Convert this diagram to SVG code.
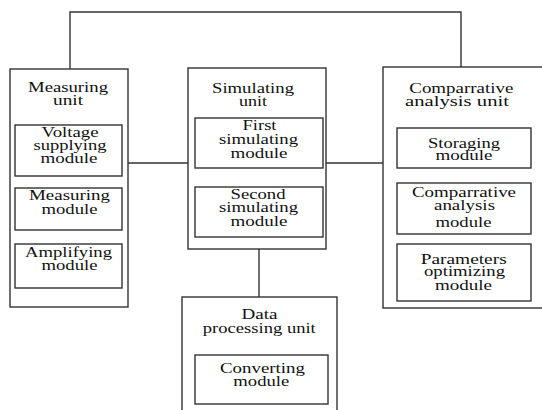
<svg xmlns="http://www.w3.org/2000/svg" width="542" height="410" viewBox="0 0 542 410" font-family="'Liberation Serif', 'Times New Roman', Times, serif">
<style>
rect{fill:#fff;stroke:#333;stroke-width:1.4}
.c{fill:none;stroke:#333;stroke-width:1.4}
text{font-family:'Liberation Serif', Times, serif;font-size:15px;fill:#111;text-anchor:middle}
</style>
<rect x="0" y="0" width="542" height="410" style="stroke:none"/>
<g id="connectors">
<polyline class="c" points="70,69 70,12 461,12 461,67"/>
<line class="c" x1="128" y1="163" x2="188" y2="163"/>
<line class="c" x1="326" y1="163" x2="383" y2="163"/>
<line class="c" x1="259" y1="249" x2="259" y2="297"/>
<line class="c" x1="71" y1="176" x2="71" y2="188"/>
<line class="c" x1="71" y1="230" x2="71" y2="244"/>
<line class="c" x1="259" y1="168" x2="259" y2="187"/>
<line class="c" x1="463" y1="168" x2="463" y2="183"/>
<line class="c" x1="463" y1="234" x2="463" y2="244"/>
</g>
<g id="measuring-unit">
<rect x="10" y="69" width="118" height="238"/>
<text x="68" y="92" textLength="80" lengthAdjust="spacingAndGlyphs">Measuring</text>
<text x="68" y="105" textLength="30" lengthAdjust="spacingAndGlyphs">unit</text>
</g>
<g id="voltage-module">
<rect x="15" y="125" width="107" height="51"/>
<text x="70" y="137" textLength="57" lengthAdjust="spacingAndGlyphs">Voltage</text>
<text x="70" y="150" textLength="73" lengthAdjust="spacingAndGlyphs">supplying</text>
<text x="69" y="163" textLength="57" lengthAdjust="spacingAndGlyphs">module</text>
</g>
<g id="measuring-module">
<rect x="15" y="188" width="107" height="42"/>
<text x="69.5" y="200" textLength="81" lengthAdjust="spacingAndGlyphs">Measuring</text>
<text x="69.5" y="214" textLength="56" lengthAdjust="spacingAndGlyphs">module</text>
</g>
<g id="amplifying-module">
<rect x="15" y="244" width="107" height="44"/>
<text x="68.5" y="257" textLength="87" lengthAdjust="spacingAndGlyphs">Amplifying</text>
<text x="69.5" y="270" textLength="56" lengthAdjust="spacingAndGlyphs">module</text>
</g>
<g id="simulating-unit">
<rect x="188" y="68" width="138" height="181"/>
<text x="253" y="93" textLength="82" lengthAdjust="spacingAndGlyphs">Simulating</text>
<text x="253" y="106" textLength="28" lengthAdjust="spacingAndGlyphs">unit</text>
</g>
<g id="first-simulating-module">
<rect x="195" y="118" width="128" height="50"/>
<text x="259.5" y="130" textLength="34" lengthAdjust="spacingAndGlyphs">First</text>
<text x="258.5" y="143.5" textLength="79" lengthAdjust="spacingAndGlyphs">simulating</text>
<text x="259" y="158" textLength="57" lengthAdjust="spacingAndGlyphs">module</text>
</g>
<g id="second-simulating-module">
<rect x="195" y="187" width="128" height="50"/>
<text x="258" y="198.5" textLength="55" lengthAdjust="spacingAndGlyphs">Second</text>
<text x="258.5" y="212" textLength="79" lengthAdjust="spacingAndGlyphs">simulating</text>
<text x="259" y="226" textLength="57" lengthAdjust="spacingAndGlyphs">module</text>
</g>
<g id="comparative-unit">
<rect x="383" y="67" width="170" height="241"/>
<text x="461.3" y="92.5" textLength="104" lengthAdjust="spacingAndGlyphs">Comparrative</text>
<text x="457" y="106" textLength="104" lengthAdjust="spacingAndGlyphs">analysis unit</text>
</g>
<g id="storaging-module">
<rect x="397" y="128" width="134" height="40"/>
<text x="464" y="147.5" textLength="72" lengthAdjust="spacingAndGlyphs">Storaging</text>
<text x="464" y="160" textLength="57" lengthAdjust="spacingAndGlyphs">module</text>
</g>
<g id="comparative-module">
<rect x="397" y="183" width="134" height="51"/>
<text x="464" y="197" textLength="104" lengthAdjust="spacingAndGlyphs">Comparrative</text>
<text x="464.5" y="210" textLength="61" lengthAdjust="spacingAndGlyphs">analysis</text>
<text x="463.5" y="227" textLength="56" lengthAdjust="spacingAndGlyphs">module</text>
</g>
<g id="parameters-module">
<rect x="397" y="244" width="134" height="57"/>
<text x="463.7" y="263.5" textLength="86" lengthAdjust="spacingAndGlyphs">Parameters</text>
<text x="464.5" y="276" textLength="81" lengthAdjust="spacingAndGlyphs">optimizing</text>
<text x="463.5" y="290" textLength="57" lengthAdjust="spacingAndGlyphs">module</text>
</g>
<g id="data-processing-unit">
<rect x="182" y="297" width="155" height="120"/>
<text x="259.5" y="318.5" textLength="36" lengthAdjust="spacingAndGlyphs">Data</text>
<text x="259.3" y="333" textLength="113" lengthAdjust="spacingAndGlyphs">processing unit</text>
</g>
<g id="converting-module">
<rect x="195" y="355" width="133" height="49"/>
<text x="262.5" y="373" textLength="85" lengthAdjust="spacingAndGlyphs">Converting</text>
<text x="261.3" y="386" textLength="56" lengthAdjust="spacingAndGlyphs">module</text>
</g>
</svg>
